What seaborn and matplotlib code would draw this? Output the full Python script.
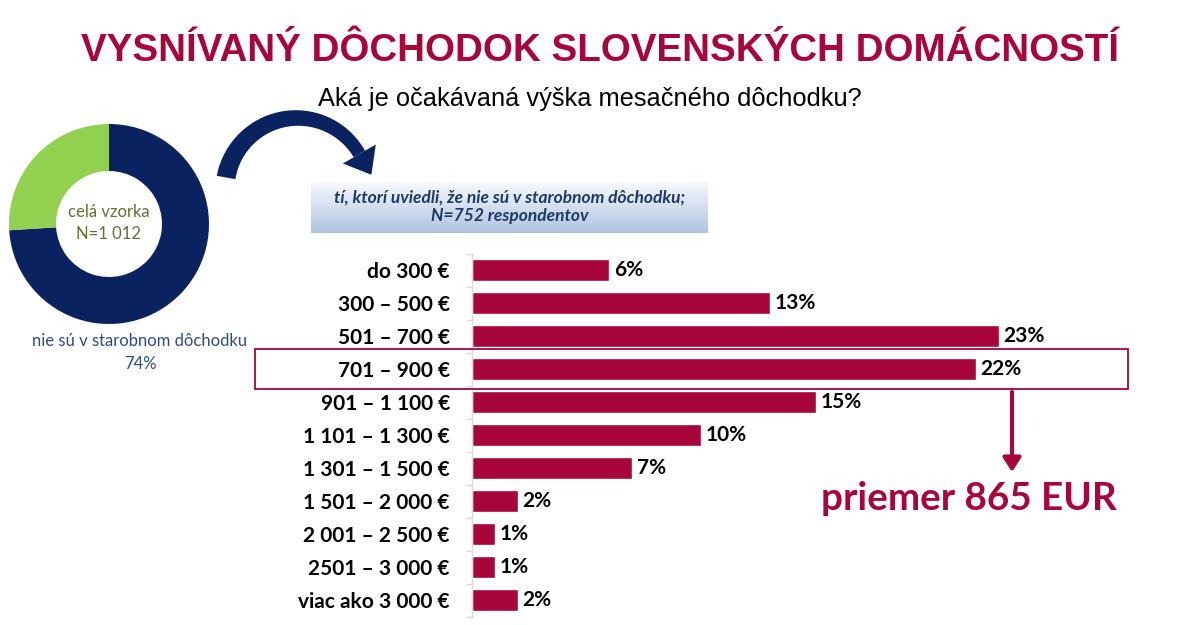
import numpy as np
import pandas as pd
import matplotlib
matplotlib.use("Agg")
import matplotlib.pyplot as plt
import matplotlib.transforms as mtrans
from matplotlib.patches import Rectangle, Polygon
from matplotlib.colors import LinearSegmentedColormap
import seaborn as sns

# ---------------- data ----------------
categories = ["do 300 €", "300 – 500 €", "501 – 700 €", "701 – 900 €",
              "901 – 1 100 €", "1 101 – 1 300 €", "1 301 – 1 500 €",
              "1 501 – 2 000 €", "2 001 – 2 500 €", "2501 – 3 000 €",
              "viac ako 3 000 €"]
values = [6, 13, 23, 22, 15, 10, 7, 2, 1, 1, 2]
highlight_category = "701 – 900 €"

donut_names = ["nie sú v starobnom dôchodku", "v starobnom dôchodku"]
donut_values = [74, 26]

title = "VYSNÍVANÝ DÔCHODOK SLOVENSKÝCH DOMÁCNOSTÍ"
subtitle = "Aká je očakávaná výška mesačného dôchodku?"
box_text = "tí, ktorí uviedli, že nie sú v starobnom dôchodku;\nN=752 respondentov"
mean_text = "priemer 865 EUR"

# ---------------- style ----------------
sns.set_theme(style="white")
plt.rcParams['font.family'] = ['Lato', 'DejaVu Sans']

CRIMSON = "#A8053A"
NAVY = "#0B2260"
GREEN = "#92D050"

W, H = 1200, 625
fig = plt.figure(figsize=(12, 6.25), dpi=100)

# ---------------- bar chart ----------------
px_per_pct = 22.9
ax_left, ax_right = 472, 1128
ax_top, ax_bottom = 253.5, 616.5
ax = fig.add_axes([ax_left / W, 1 - ax_bottom / H, (ax_right - ax_left) / W,
                   (ax_bottom - ax_top) / H])
df = pd.DataFrame({"cat": categories, "val": values})
sns.barplot(data=df, x="val", y="cat", orient="h", color=CRIMSON,
            saturation=1, width=0.68, ax=ax)
ax.set_xlim(0, (ax_right - ax_left) / px_per_pct)
ax.set_ylim(len(categories) - 0.5, -0.5)
ax.set_xlabel("")
ax.set_ylabel("")
ax.set_xticks([])
for s in ["top", "right", "bottom"]:
    ax.spines[s].set_visible(False)
ax.spines["left"].set_color("#d9d9d9")
ax.spines["left"].set_linewidth(1)
ax.tick_params(axis="y", length=0, pad=16)
ax.set_yticks(range(len(categories)))
ax.set_yticks(np.arange(-0.5, len(categories), 1), minor=True)
ax.tick_params(axis="y", which="minor", length=4, color="#d9d9d9", width=1,
               direction="out", left=True)
for lab in ax.get_yticklabels():
    lab.set_fontweight("bold")
    lab.set_fontsize(15)
    lab.set_color("black")
for i, v in enumerate(values):
    ax.text(v + 0.2, i, f"{v}%", va="center", ha="left", fontsize=15,
            fontweight="bold", color="black")

# highlight box around chosen category
hi = categories.index(highlight_category)
tr = mtrans.blended_transform_factory(ax.transAxes, ax.transData)
x0 = (255 - ax_left) / (ax_right - ax_left)
ax.add_patch(Rectangle((x0, hi - 0.6), 1 - x0, 1.2, transform=tr,
                       fill=False, edgecolor=CRIMSON, lw=1.3, clip_on=False,
                       zorder=5))

# ---------------- donut ----------------
cx, cy, r = 109, 224, 100
dax = fig.add_axes([(cx - r) / W, 1 - (cy + r) / H, 2 * r / W, 2 * r / H])
dax.pie(donut_values, colors=[NAVY, GREEN], startangle=90, counterclock=False,
        radius=1, wedgeprops=dict(width=0.47, edgecolor="none"))
dax.set_xlim(-1, 1)
dax.set_ylim(-1, 1)
dax.set_aspect("equal")
dax.axis("off")

# ---------------- overlay ----------------
ov = fig.add_axes([0, 0, 1, 1], zorder=10)
ov.set_xlim(0, W)
ov.set_ylim(H, 0)
ov.axis("off")
ov.patch.set_alpha(0)

ov.text(600, 51, title, ha="center", va="center", fontsize=27.7,
        fontweight="bold", color=CRIMSON, family=["Liberation Sans", "DejaVu Sans"])
ov.text(590, 99, subtitle, ha="center", va="center", fontsize=18.3,
        color="black", family=["Liberation Sans", "DejaVu Sans"])

ov.text(cx, 212, "celá vzorka", ha="center", va="center", fontsize=12,
        color="#5E7330")
ov.text(cx, 234, "N=1 012", ha="center", va="center", fontsize=12,
        color="#5E7330")
ov.text(140, 341, f"{donut_names[0]}", ha="center", va="center",
        fontsize=12, color="#2E4A8C")
ov.text(140, 364, f"{donut_values[0]}%", ha="center", va="center",
        fontsize=12, color="#2E4A8C")

# gradient box
cmap = LinearSegmentedColormap.from_list("g", ["#F7F9FC", "#AFC3E0"])
grad = np.linspace(0, 1, 100).reshape(-1, 1)
ov.imshow(grad, cmap=cmap, extent=[311, 708, 233, 182], aspect="auto",
          zorder=1)
ov.set_xlim(0, W)
ov.set_ylim(H, 0)
ov.text(510, 207, box_text, ha="center", va="center", fontsize=12.5,
        fontweight="bold", fontstyle="italic", color="#1F3864",
        linespacing=1.2, zorder=2)

# curved navy arrow
acx, acy, ar = 297, 190, 72
th = np.radians(np.linspace(170, 30, 80))
wid = np.linspace(19, 13, 80)
outer = np.column_stack([acx + (ar + wid / 2) * np.cos(th),
                         acy - (ar + wid / 2) * np.sin(th)])
inner = np.column_stack([acx + (ar - wid / 2) * np.cos(th),
                         acy - (ar - wid / 2) * np.sin(th)])
ov.add_patch(Polygon(np.vstack([outer, inner[::-1]]), closed=True,
                     facecolor=NAVY, edgecolor="none"))
te = th[-1]
base = np.array([acx + ar * np.cos(te), acy - ar * np.sin(te)])
tang = np.array([np.sin(te), np.cos(te)])
perp = np.array([np.cos(te), -np.sin(te)])
head = [base + 19 * perp, base - 19 * perp, base + 24 * tang]
ov.add_patch(Polygon(head, closed=True, facecolor=NAVY, edgecolor="none"))

# crimson down arrow and mean text
ov.annotate("", xy=(1012, 472), xytext=(1012, 392),
            arrowprops=dict(arrowstyle="-|>,head_length=0.7,head_width=0.45",
                            color=CRIMSON, lw=3, shrinkA=0, shrinkB=0))
ov.text(969, 499, mean_text, ha="center", va="center", fontsize=27.8,
        fontweight="bold", color=CRIMSON)

fig.savefig("out.png", dpi=100)
